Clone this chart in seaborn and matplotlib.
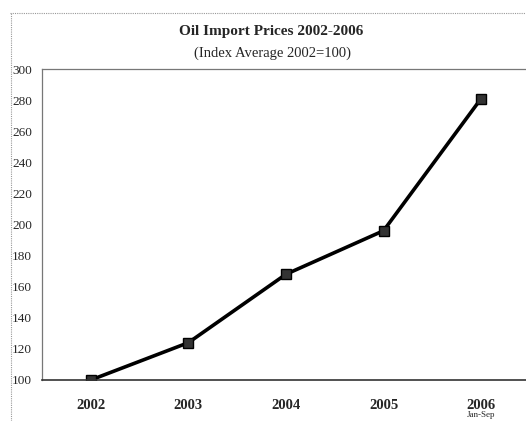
import matplotlib
matplotlib.use("Agg")
import matplotlib.pyplot as plt
import seaborn as sns
import pandas as pd
from matplotlib.lines import Line2D

years = ["2002", "2003", "2004", "2005", "2006"]
index_values = [100, 124, 168, 196, 281]
y_ticks = [100, 120, 140, 160, 180, 200, 220, 240, 260, 280, 300]

sns.set_style("white")
plt.rcParams["font.family"] = ["Liberation Serif", "DejaVu Serif"]

df = pd.DataFrame({"year": years, "index": index_values})

fig = plt.figure(figsize=(5.26, 4.21), dpi=100)
ax = fig.add_axes([42 / 526, 1 - 380 / 421, 484 / 526, 311 / 421])

sns.lineplot(data=df, x="year", y="index", ax=ax, color="black", linewidth=2.6,
             marker="s", markersize=6.5, markerfacecolor="#333333",
             markeredgecolor="black", markeredgewidth=1.0, sort=False)

ax.set_ylim(100, 300)
ax.set_xlim(-0.5, 4.46)
ax.set_yticks(y_ticks)
ax.set_yticklabels([str(v) for v in y_ticks], fontsize=9.5)
ax.set_xticks(range(len(years)))
ax.set_xticklabels(years, fontsize=10.5, fontweight="bold")
# tick marks sit between the categories, labels sit under them
ax.set_xticks([-0.5, 0.5, 1.5, 2.5, 3.5], minor=True)
ax.tick_params(axis="x", which="major", length=0, pad=14)
ax.tick_params(axis="x", which="minor", length=4, width=0.8, direction="out", color="#444444")
ax.tick_params(axis="y", length=4, width=0.8, direction="out", color="#444444", pad=3)
ax.set_xlabel("")
ax.set_ylabel("")

for side in ["left", "top"]:
    ax.spines[side].set_linestyle((0, (1, 1)))
    ax.spines[side].set_color("#777777")
    ax.spines[side].set_linewidth(0.9)
ax.spines["right"].set_visible(False)
ax.spines["bottom"].set_color("#333333")
ax.spines["bottom"].set_linewidth(1.2)

fig.text(481 / 526, 1 - 415 / 421, "Jan-Sep", ha="center", va="center", fontsize=6.5)

fig.text(271 / 526, 1 - 31 / 421, "Oil Import Prices 2002-2006", ha="center", va="center",
         fontsize=11, fontweight="bold")
fig.text(272 / 526, 1 - 53 / 421, "(Index Average 2002=100)", ha="center", va="center",
         fontsize=10.5)

# outer frame of the original chart area
fig.add_artist(Line2D([11 / 526, 11 / 526], [0, 1 - 13 / 421], color="#999999", linewidth=0.8,
                      linestyle=(0, (1, 1))))
fig.add_artist(Line2D([10 / 526, 1], [1 - 13 / 421, 1 - 13 / 421], color="#999999", linewidth=0.8,
                      linestyle=(0, (1, 1))))

fig.savefig("out.png", dpi=100)
